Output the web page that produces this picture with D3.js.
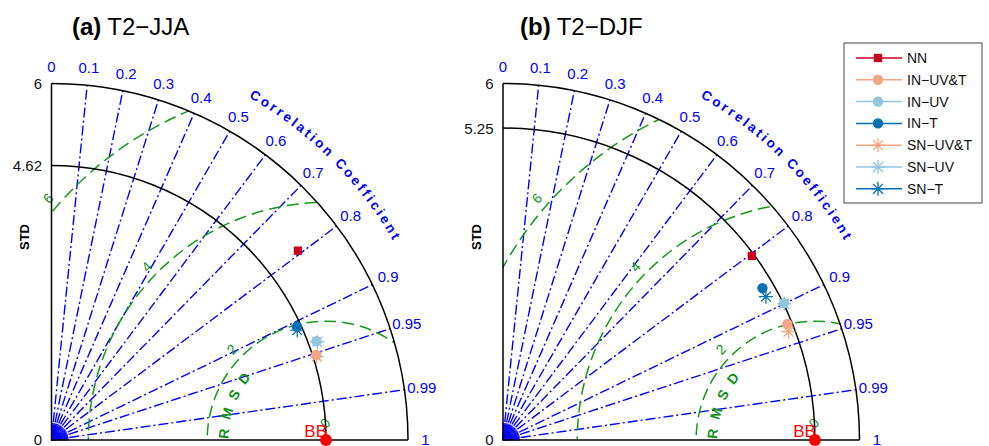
<!DOCTYPE html>
<html>
<head>
<meta charset="utf-8">
<script src="https://cdn.jsdelivr.net/npm/d3@7"></script>
<style>
  body { margin: 0; background: #fff; }
  text { font-family: "Liberation Sans", Arial, sans-serif; }
</style>
</head>
<body>
<svg id="chart" width="989" height="446"></svg>
<script>
// models and their styles
const models = ["NN", "IN\u2212UV&T", "IN\u2212UV", "IN\u2212T", "SN\u2212UV&T", "SN\u2212UV", "SN\u2212T"];
const colors = ["#ca0020", "#f4a582", "#92c5de", "#0571b0", "#f4a582", "#92c5de", "#0571b0"];
const markers = ["square", "circle", "circle", "circle", "star", "star", "star"];

// (a) T2-JJA
const jjaStd  = [5.23, 4.68, 4.76, 4.55, 4.68, 4.77, 4.53];
const jjaCorr = [0.793, 0.952, 0.937, 0.908, 0.954, 0.938, 0.913];
const jjaRef = 4.62;

// (b) T2-DJF
const djfStd  = [5.21, 5.17, 5.26, 5.06, 5.14, 5.26, 5.04];
const djfCorr = [0.804, 0.926, 0.899, 0.863, 0.935, 0.900, 0.878];
const djfRef = 5.25;

const corrTicks = [0, 0.1, 0.2, 0.3, 0.4, 0.5, 0.6, 0.7, 0.8, 0.9, 0.95, 0.99, 1];
const corrLines = [0.1, 0.2, 0.3, 0.4, 0.5, 0.6, 0.7, 0.8, 0.9, 0.95, 0.99];
const rmsdLevels = [0, 2, 4, 6];
const stdMax = 6;

class Taylor {

  constructor(_config) {
    this.config = {
      parentElement: _config.parentElement,
      id: _config.id,
      originX: _config.originX,
      originY: _config.originY || 440,
      radius: _config.radius || 356.5,
      title: _config.title,
      tag: _config.tag,
      titleDx: _config.titleDx || 18,
      refStd: _config.refStd,
      std: _config.std,
      corr: _config.corr
    }
    this.initVis();
  }

  initVis() {
    let vis = this;
    const c = vis.config;

    vis.rScale = d3.scaleLinear().domain([0, stdMax]).range([0, c.radius]);
    vis.R = vis.rScale(stdMax);
    vis.refX = vis.rScale(c.refStd);

    vis.chart = c.parentElement.append('g')
      .attr('transform', `translate(${c.originX}, ${c.originY})`);

    // std + correlation -> x,y
    vis.pt = (s, corr) => {
      const a = Math.acos(corr);
      return [vis.rScale(s) * Math.cos(a), -vis.rScale(s) * Math.sin(a)];
    };

    vis.renderVis();
  }

  renderVis() {
    let vis = this;
    const c = vis.config;
    const R = vis.R;

    // sector clip
    vis.chart.append('clipPath').attr('id', 'clip-' + c.id)
      .append('path')
      .attr('d', `M0,0L0,${-R}A${R},${R} 0 0 1 ${R},0Z`);

    // little fan at the origin
    d3.range(0, 91, 3).forEach(deg => {
      const a = deg * Math.PI / 180;
      vis.chart.append('line')
        .attr('x1', 0).attr('y1', 0)
        .attr('x2', 17 * Math.cos(a)).attr('y2', -17 * Math.sin(a))
        .attr('stroke', '#0000ff').attr('stroke-width', 1);
    });

    // correlation rays
    vis.chart.selectAll('.ray').data(corrLines).join('line')
      .attr('class', 'ray')
      .attr('x1', 0).attr('y1', 0)
      .attr('x2', d => vis.pt(stdMax, d)[0])
      .attr('y2', d => vis.pt(stdMax, d)[1])
      .attr('stroke', '#0000ff')
      .attr('stroke-width', 1.4)
      .attr('stroke-dasharray', '10,3,2,3');

    // RMSD contours
    const rms = vis.chart.append('g').attr('clip-path', `url(#clip-${c.id})`);
    rms.selectAll('circle').data(rmsdLevels.filter(d => d > 0)).join('circle')
      .attr('cx', vis.refX).attr('cy', 0)
      .attr('r', d => vis.rScale(d))
      .attr('fill', 'none')
      .attr('stroke', '#16991a')
      .attr('stroke-width', 1.5)
      .attr('stroke-dasharray', '12,6');

    // RMSD level labels
    rmsdLevels.forEach(d => {
      let x, y;
      if (d === 0) { x = vis.refX - 1; y = -17; }
      else {
        const phi = (d === 6 ? 139 : 136) * Math.PI / 180;
        x = vis.refX + vis.rScale(d + 0.2) * Math.cos(phi);
        y = -vis.rScale(d + 0.2) * Math.sin(phi);
      }
      vis.chart.append('text')
        .attr('transform', `translate(${x},${y}) rotate(-46)`)
        .attr('text-anchor', 'middle')
        .attr('dominant-baseline', 'central')
        .attr('fill', '#13901a')
        .style('font-size', '14px')
        .text(d);
    });

    // RMSD label along the 2 contour
    const rr = vis.rScale(1.64);
    const a0 = 185 * Math.PI / 180, a1 = 125 * Math.PI / 180;
    vis.chart.append('path')
      .attr('id', 'rmsd-' + c.id)
      .attr('fill', 'none')
      .attr('d', `M${vis.refX + rr * Math.cos(a0)},${-rr * Math.sin(a0)}A${rr},${rr} 0 0 1 ${vis.refX + rr * Math.cos(a1)},${-rr * Math.sin(a1)}`);
    vis.chart.append('text')
      .attr('fill', '#13901a')
      .style('font-size', '14px')
      .style('font-weight', 'bold')
      .style('letter-spacing', '8.5px')
      .append('textPath')
      .attr('href', '#rmsd-' + c.id)
      .attr('startOffset', '46%')
      .attr('text-anchor', 'middle')
      .text('RMSD');

    // std arcs
    [stdMax, c.refStd].forEach(s => {
      const r = vis.rScale(s);
      vis.chart.append('path')
        .attr('d', `M0,${-r}A${r},${r} 0 0 1 ${r},0`)
        .attr('fill', 'none')
        .attr('stroke', '#000')
        .attr('stroke-width', 1.5);
    });

    // axes
    vis.chart.append('path')
      .attr('d', `M0,${-R}L0,0L${R},0`)
      .attr('fill', 'none')
      .attr('stroke', '#000')
      .attr('stroke-width', 1.5);

    // std tick labels
    [stdMax, c.refStd, 0].forEach(s => {
      vis.chart.append('text')
        .attr('x', -9.5).attr('y', -vis.rScale(s) - (s === 0 ? 1 : 0))
        .attr('text-anchor', 'end')
        .attr('dominant-baseline', 'central')
        .attr('fill', '#111')
        .style('font-size', '15px')
        .text(s);
    });

    vis.chart.append('text')
      .attr('transform', `translate(-27,${-203}) rotate(-90)`)
      .attr('text-anchor', 'middle')
      .attr('dominant-baseline', 'central')
      .style('font-size', '13px')
      .style('font-weight', 'bold')
      .text('STD');

    // correlation tick labels
    vis.chart.selectAll('.ctick').data(corrTicks).join('text')
      .attr('class', 'ctick')
      .attr('x', d => (R + 17.5) * d)
      .attr('y', d => -(R + 17.5) * Math.sin(Math.acos(d)) - (d === 1 ? 1 : 0))
      .attr('text-anchor', 'middle')
      .attr('dominant-baseline', 'central')
      .attr('fill', '#0000ff')
      .style('font-size', '15px')
      .text(d => d);

    // "Correlation Coefficient" along the arc
    const rc = R + 39;
    vis.chart.append('path')
      .attr('id', 'cc-' + c.id)
      .attr('fill', 'none')
      .attr('d', `M0,${-rc}A${rc},${rc} 0 0 1 ${rc},0`);
    vis.chart.append('text')
      .attr('fill', '#0000ff')
      .style('font-size', '13.5px')
      .style('font-weight', 'bold')
      .style('letter-spacing', '2.7px')
      .append('textPath')
      .attr('href', '#cc-' + c.id)
      .attr('startOffset', '50%')
      .attr('text-anchor', 'middle')
      .text('Correlation Coefficient');

    // model points
    c.std.forEach((s, i) => {
      const [x, y] = vis.pt(s, c.corr[i]);
      drawMarker(vis.chart, markers[i], colors[i], x, y);
    });

    // reference
    vis.chart.append('circle')
      .attr('cx', vis.refX).attr('cy', 0).attr('r', 6)
      .attr('fill', '#ff0000');
    vis.chart.append('text')
      .attr('x', vis.refX + 1).attr('y', -3)
      .attr('text-anchor', 'end')
      .attr('fill', '#ff0000')
      .style('font-size', '17px')
      .text('BB');

    // title
    const t = c.parentElement.append('text')
      .attr('x', c.originX + c.titleDx).attr('y', 35)
      .style('font-size', '24px');
    t.append('tspan').style('font-weight', 'bold').text(c.tag);
    t.append('tspan').attr('dx', 6).text(c.title);
  }
}

function asterisk(r) {
  let p = '';
  for (let i = 0; i < 4; i++) {
    const a = i * Math.PI / 4;
    p += `M${-r * Math.cos(a)},${-r * Math.sin(a)}L${r * Math.cos(a)},${r * Math.sin(a)}`;
  }
  return p;
}

function drawMarker(g, type, color, x, y) {
  if (type === 'square') {
    g.append('path')
      .attr('transform', `translate(${x},${y})`)
      .attr('d', d3.symbol(d3.symbolSquare, 70)())
      .attr('fill', color);
  } else if (type === 'circle') {
    g.append('circle')
      .attr('cx', x).attr('cy', y).attr('r', 5.2)
      .attr('fill', color);
  } else {
    g.append('path')
      .attr('transform', `translate(${x},${y})`)
      .attr('d', asterisk(7))
      .attr('stroke', color)
      .attr('stroke-width', 1.3)
      .attr('fill', 'none');
  }
}

const svg = d3.select('#chart');

const left = new Taylor({ parentElement: svg, id: 'a', originX: 51.5, tag: '(a)', title: 'T2\u2212JJA', refStd: jjaRef, std: jjaStd, corr: jjaCorr, titleDx: 20.5 });
const right = new Taylor({ parentElement: svg, id: 'b', originX: 503, tag: '(b)', title: 'T2\u2212DJF', refStd: djfRef, std: djfStd, corr: djfCorr, titleDx: 17 });

// legend
const lg = svg.append('g').attr('transform', 'translate(844,43)');
lg.append('rect')
  .attr('width', 138).attr('height', 160)
  .attr('fill', '#fff').attr('stroke', '#444').attr('stroke-width', 1);
models.forEach((m, i) => {
  const y = 15 + i * 21.8;
  lg.append('line')
    .attr('x1', 12).attr('x2', 58).attr('y1', y).attr('y2', y)
    .attr('stroke', colors[i]).attr('stroke-width', 1.5);
  drawMarker(lg, markers[i], colors[i], 34, y);
  lg.append('text')
    .attr('x', 63).attr('y', y)
    .attr('dominant-baseline', 'central')
    .attr('fill', '#111')
    .style('font-size', '14px')
    .text(m);
});
</script>
</body>
</html>
